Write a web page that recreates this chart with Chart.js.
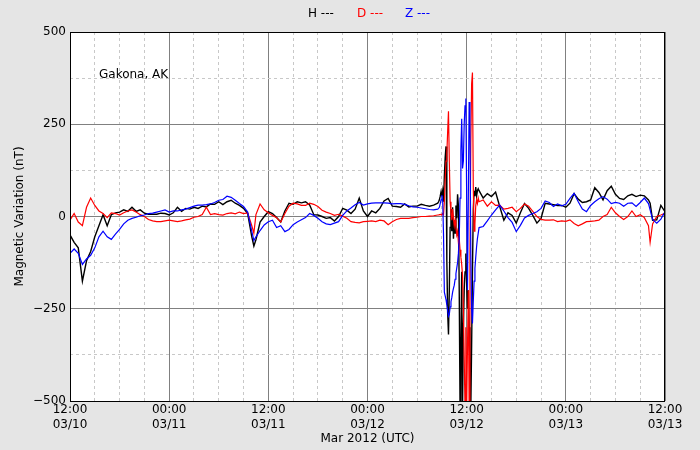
<!DOCTYPE html>
<html lang="en">
<head>
<meta charset="UTF-8">
<title>Gakona, AK - Magnetic Variation</title>
<script src="https://cdn.jsdelivr.net/npm/chart.js@4.4.0/dist/chart.umd.min.js"></script>
<style>
  body { margin: 0; background: #e5e5e5; }
  .wrap { position: relative; width: 700px; height: 450px; font-family: "DejaVu Sans", sans-serif; font-size: 12px; }
  .legend span { position: absolute; top: 6px; line-height: 14px; white-space: nowrap; }
  .site { position: absolute; left: 99px; top: 67px; line-height: 14px; }
</style>
</head>
<body>
<div class="wrap">
  <canvas id="magChart" width="700" height="450"></canvas>
  <div class="legend">
    <span style="left:308px;color:#000">H ---</span>
    <span style="left:357px;color:#ff0000">D ---</span>
    <span style="left:405px;color:#0000ff">Z ---</span>
  </div>
  <div class="site">Gakona, AK</div>
</div>
<script>
// hours since 12:00 UTC 03/10/2012 (denser sampling during the storm)
const hours = [
  0,0.5,1,1.5,2,2.5,3,3.5,4,4.5,5,5.5,6,6.5,7,7.5,8,8.5,9,9.5,10,10.5,11,11.5,12,
  12.5,13,13.5,14,14.5,15,15.5,16,16.5,17,17.5,18,18.5,19,19.5,20,20.5,21,21.5,22,22.25,22.5,23,23.5,24,
  24.5,25,25.5,26,26.5,27,27.5,28,28.5,29,29.5,30,30.5,31,31.5,32,32.5,33,33.5,34,
  34.5,35,35.5,36,36.5,37,37.5,38,38.5,39,39.5,40,40.5,41,41.5,42,42.5,43,43.5,44,44.5,
  44.6,44.7,44.8,44.9,45.0,45.1,45.2,45.3,45.4,45.5,45.6,45.7,45.8,45.9,46.0,46.1,46.2,46.3,46.4,46.5,
  46.6,46.7,46.8,46.9,47.0,47.1,47.2,47.3,47.4,47.5,47.6,47.7,47.8,47.9,48.0,48.1,48.2,48.3,48.4,48.5,
  48.6,48.7,48.8,48.9,49.0,49.1,49.2,49.3,49.4,
  49.5,50,50.5,51,51.5,52,52.5,53,53.5,54,54.5,55,55.5,56,56.5,57,57.5,58,58.5,59,
  59.5,60,60.5,61,61.5,62,62.5,63,63.5,64,64.5,65,65.5,66,66.5,67,67.5,68,68.5,69,
  69.5,70,70.2,70.5,71,71.5,72
];

const seriesH = [
  -50,-70,-85,-175,-120,-95,-55,-25,5,-25,5,10,12,18,14,25,14,18,9,6,6,6,9,8,4,
  10,25,14,22,20,25,22,28,26,34,33,40,32,40,44,36,30,22,8,-55,-80,-63,-15,0,13,
  8,-3,-15,15,36,33,40,37,40,31,5,4,0,-5,-3,-12,0,22,17,8,
  20,50,15,0,15,10,22,42,49,28,27,25,34,26,28,28,33,30,28,31,36,
  40,45,55,67,55,70,40,110,160,190,-120,-260,-320,-200,-30,20,-40,25,-60,-10,
  -45,30,-5,60,30,-200,-520,-350,-150,-520,-300,-200,-150,-100,-180,-250,-200,-300,-420,-520,
  -350,-150,20,70,55,80,55,70,75,
  70,50,62,54,66,27,-10,10,3,-18,10,35,22,3,-18,-5,36,34,32,30,
  30,25,36,62,47,38,40,45,78,65,45,70,82,60,49,46,56,60,54,58,
  56,45,36,-10,-9,30,13
];

const seriesD = [
  -10,8,-15,-25,25,50,30,15,8,-3,10,8,4,10,15,18,12,5,0,-8,-12,-14,-14,-12,-10,
  -12,-14,-12,-9,-7,-2,0,5,25,5,8,5,4,8,10,7,12,8,10,-25,-45,5,34,18,10,
  3,-3,-15,8,28,36,34,30,30,36,33,27,17,12,8,3,6,1,-5,-14,
  -16,-17,-14,-13,-12,-14,-10,-12,-22,-14,-8,-5,-5,-5,-3,-2,0,0,1,2,4,
  4,5,5,6,5,8,5,40,100,150,170,230,285,150,40,10,-10,20,-5,-25,
  -10,-30,-50,-40,-70,-60,-90,-110,-130,-160,-250,-380,-520,-300,-520,-350,-200,-520,-100,200,
  360,390,80,-40,-20,30,45,35,50,
  40,45,28,40,30,31,20,22,25,13,22,34,28,14,0,-8,-10,-10,-9,-14,
  -12,-13,-9,-19,-25,-20,-14,-13,-12,-10,0,5,25,10,0,-8,0,15,0,5,
  -3,-25,-70,-20,0,4,9
];

const seriesZ = [
  -100,-88,-100,-130,-115,-105,-85,-55,-40,-55,-62,-48,-35,-20,-10,-5,-2,2,4,8,9,12,15,18,12,
  15,15,18,20,24,28,31,31,32,34,38,44,46,55,52,44,35,27,12,-40,-65,-55,-38,-23,-14,
  -10,-30,-25,-41,-35,-22,-15,-9,-3,8,3,-5,-14,-20,-22,-18,-14,3,15,23,
  32,38,31,34,36,37,37,37,36,34,35,35,33,29,26,25,23,21,19,18,20,
  22,25,35,45,58,40,-50,-205,-215,-225,-240,-255,-270,-265,-245,-231,-220,-205,-195,-186,
  -170,-155,-140,-125,-100,-60,50,180,265,130,150,250,300,320,50,-200,50,310,250,-100,
  -250,-290,-230,-175,-140,-110,-82,-60,-45,
  -30,-27,-12,4,18,31,15,-3,-16,-41,-24,-4,3,8,13,22,42,38,27,34,
  29,33,49,63,40,20,13,30,40,48,54,47,35,38,36,28,36,37,27,38,
  50,35,18,-8,-18,-7,13
];

const xTickHours = [0, 12, 24, 36, 48, 60, 72];
const xTickTimes = ['12:00', '00:00', '12:00', '00:00', '12:00', '00:00', '12:00'];
const xTickDates = ['03/10', '03/11', '03/11', '03/12', '03/12', '03/13', '03/13'];
const yTickValues = [500, 250, 0, -250, -500];
const yTickLabels = ['500', '250', '0', '\u2212250', '\u2212500'];

const MAJOR = '#808080';
const MINOR = '#c8c8c8';

function toPoints(values) {
  return hours.map((h, i) => ({ x: h, y: values[i] }));
}

const plotFrame = {
  id: 'plotFrame',
  beforeDraw(chart) {
    const a = chart.chartArea, ctx = chart.ctx;
    ctx.save();
    ctx.fillStyle = '#ffffff';
    ctx.fillRect(a.left, a.top, a.right - a.left, a.bottom - a.top);
    ctx.restore();
  },
  afterDatasetsDraw(chart) {
    const a = chart.chartArea, ctx = chart.ctx;
    ctx.save();
    ctx.strokeStyle = '#000';
    ctx.lineWidth = 1;
    ctx.strokeRect(a.left + 0.5, a.top + 0.5, a.right - a.left - 1, a.bottom - a.top);
    ctx.restore();
  }
};

Chart.defaults.font.family = '"DejaVu Sans", sans-serif';
Chart.defaults.font.size = 12;
Chart.defaults.color = '#000';

new Chart(document.getElementById('magChart'), {
  type: 'line',
  data: {
    datasets: [
      { label: 'H', data: toPoints(seriesH), borderColor: '#000000', borderWidth: 1.4, order: 3 },
      { label: 'D', data: toPoints(seriesD), borderColor: '#ff0000', borderWidth: 1.2, order: 2 },
      { label: 'Z', data: toPoints(seriesZ), borderColor: '#0000ff', borderWidth: 1.2, order: 1 }
    ]
  },
  options: {
    responsive: false,
    animation: false,
    elements: { point: { radius: 0 }, line: { tension: 0 } },
    layout: { padding: { left: 0, right: 35, top: 32, bottom: 0 } },
    plugins: { legend: { display: false }, tooltip: { enabled: false } },
    scales: {
      x: {
        type: 'linear',
        min: 0,
        max: 72,
        afterFit(scale) { scale.height = 49; },
        ticks: {
          stepSize: 3,
          autoSkip: false,
          maxRotation: 0,
          padding: 1,
          font: { size: 12, lineHeight: 1.25 },
          callback(v) {
            const i = xTickHours.indexOf(v);
            return i >= 0 ? [xTickTimes[i], xTickDates[i]] : '';
          }
        },
        grid: {
          drawTicks: false,
          color: (c) => (c.tick && c.tick.value % 12 === 0) ? MAJOR : MINOR,
          lineWidth: 1
        },
        border: {
          display: false,
          dash: (c) => (c.tick && c.tick.value % 12 === 0) ? [] : [3, 3]
        },
        title: {
          display: true,
          text: 'Mar 2012 (UTC)',
          font: { size: 12 },
          padding: { top: 0, bottom: 4 }
        }
      },
      y: {
        min: -500,
        max: 500,
        afterFit(scale) { scale.width = 70; },
        ticks: {
          stepSize: 125,
          autoSkip: false,
          padding: 4,
          callback(v) {
            const i = yTickValues.indexOf(v);
            return i >= 0 ? yTickLabels[i] : '';
          }
        },
        grid: {
          drawTicks: false,
          color: (c) => (c.tick && c.tick.value % 250 === 0) ? MAJOR : MINOR,
          lineWidth: 1
        },
        border: {
          display: false,
          dash: (c) => (c.tick && c.tick.value % 250 === 0) ? [] : [3, 3]
        },
        title: {
          display: true,
          text: 'Magnetic Variation (nT)',
          font: { size: 12 },
          padding: { top: 13, bottom: 0 }
        }
      }
    }
  },
  plugins: [plotFrame]
});
</script>
</body>
</html>
